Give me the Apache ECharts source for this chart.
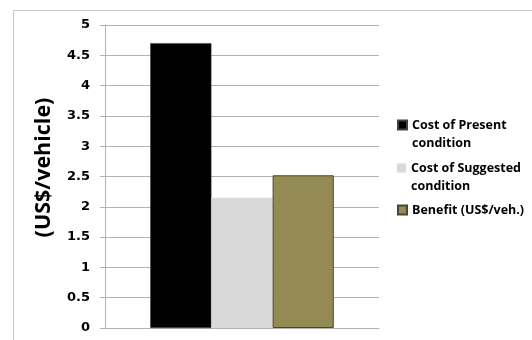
<!DOCTYPE html>
<html><head><meta charset="utf-8">
<script src="https://cdn.jsdelivr.net/npm/echarts@6/dist/echarts.min.js"></script>
<style>html,body{margin:0;padding:0;background:#fff}#c{width:532px;height:340px}</style>
</head><body><div id="c"></div>
<script>
const categories = [''];
const seriesNames = ['Cost of Present condition', 'Cost of Suggested condition', 'Benefit (US$/veh.)'];
const presentCost = [4.7];
const suggestedCost = [2.15];
const benefit = [2.52];
const yTicks = { min: 0, max: 5, interval: 0.5 };
const yName = '(US$/vehicle)';

const chart = echarts.init(document.getElementById('c'), null, { renderer: 'canvas' });
const legendFont = { fontFamily: 'Open Sans', fontWeight: 'bold', fontSize: 12.5, color: '#000', lineHeight: 18 };
function mkLegend(name, top) {
  return {
    orient: 'vertical', left: 397, top: top, padding: 0,
    itemWidth: 9, itemHeight: 9, icon: 'rect',
    data: [name],
    formatter: n => n.indexOf(' condition') >= 0 ? ' \n' + n.replace(' condition', '\ncondition') : n,
    textStyle: legendFont
  };
}
chart.setOption({
  animation: false,
  graphic: [{ type: 'rect', shape: { x: 13.5, y: 10.5, width: 530, height: 340 }, style: { fill: 'none', stroke: '#c8c8c8', lineWidth: 1 }, silent: true }],
  grid: { left: 105, right: 153, top: 25, bottom: 12 },
  legend: [
    mkLegend(seriesNames[0], 98),
    mkLegend(seriesNames[1], 141),
    mkLegend(seriesNames[2], 201)
  ],
  xAxis: {
    type: 'category', data: categories,
    axisLine: { show: true, lineStyle: { color: '#b3b3b3', width: 1 } },
    axisTick: { show: false }, axisLabel: { show: false }
  },
  yAxis: {
    type: 'value', min: yTicks.min, max: yTicks.max, interval: yTicks.interval,
    name: yName, nameLocation: 'middle', nameGap: 50, nameRotate: 90,
    nameTextStyle: { fontFamily: 'Open Sans', fontWeight: 'bold', fontSize: 21.5, color: '#000', padding: [0, 0, 0, 18] },
    axisLine: { show: true, lineStyle: { color: '#b3b3b3', width: 1 } },
    axisTick: { show: true, inside: false, length: 5, lineStyle: { color: '#b3b3b3' } },
    axisLabel: { margin: 15, fontFamily: 'DejaVu Sans', fontWeight: 'bold', fontSize: 13, color: '#000' },
    splitLine: { show: true, lineStyle: { color: '#b3b3b3', width: 1 } }
  },
  series: [
    { name: seriesNames[0], type: 'bar', data: presentCost, barGap: '0%', barCategoryGap: '33%',
      itemStyle: { color: '#000000', borderColor: '#404040', borderWidth: 0.5 } },
    { name: seriesNames[1], type: 'bar', data: suggestedCost, barGap: '0%', barCategoryGap: '33%',
      itemStyle: { color: '#d9d9d9' } },
    { name: seriesNames[2], type: 'bar', data: benefit, barGap: '0%', barCategoryGap: '33%',
      itemStyle: { color: '#948a54', borderColor: '#4a4630', borderWidth: 1 } }
  ]
});
</script></body></html>
